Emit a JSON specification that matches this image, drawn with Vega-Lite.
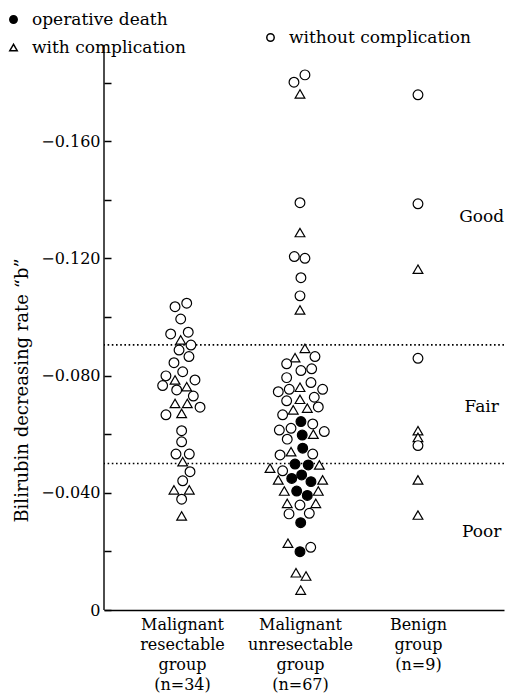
{
  "$schema": "https://vega.github.io/schema/vega-lite/v6.json",
  "width": 400,
  "height": 565,
  "autosize": {"type": "none"},
  "padding": {"left": 104, "top": 45, "right": 2, "bottom": 90},
  "background": "white",
  "config": {
    "view": {"stroke": null},
    "font": "DejaVu Serif",
    "axis": {"labelColor": "black", "titleColor": "black", "domainColor": "black", "tickColor": "black", "grid": false, "labelFont": "DejaVu Serif", "titleFont": "DejaVu Serif", "titleFontWeight": "normal"},
    "legend": {"labelFont": "DejaVu Serif", "labelColor": "black", "labelLimit": 0}
  },
  "datasets": {
    "pts": [
      {"group": "resectable", "x": 0.941, "b": -0.1035, "status": "without complication"},
      {"group": "resectable", "x": 1.040, "b": -0.1047, "status": "without complication"},
      {"group": "resectable", "x": 0.989, "b": -0.0993, "status": "without complication"},
      {"group": "resectable", "x": 0.904, "b": -0.0942, "status": "without complication"},
      {"group": "resectable", "x": 0.989, "b": -0.0922, "status": "with complication"},
      {"group": "resectable", "x": 1.053, "b": -0.0948, "status": "without complication"},
      {"group": "resectable", "x": 1.076, "b": -0.0904, "status": "without complication"},
      {"group": "resectable", "x": 0.975, "b": -0.0887, "status": "without complication"},
      {"group": "resectable", "x": 1.059, "b": -0.0865, "status": "without complication"},
      {"group": "resectable", "x": 0.932, "b": -0.0844, "status": "without complication"},
      {"group": "resectable", "x": 1.006, "b": -0.0813, "status": "without complication"},
      {"group": "resectable", "x": 0.864, "b": -0.0799, "status": "without complication"},
      {"group": "resectable", "x": 0.941, "b": -0.0785, "status": "with complication"},
      {"group": "resectable", "x": 0.836, "b": -0.0766, "status": "without complication"},
      {"group": "resectable", "x": 1.110, "b": -0.0785, "status": "without complication"},
      {"group": "resectable", "x": 1.040, "b": -0.0762, "status": "with complication"},
      {"group": "resectable", "x": 0.955, "b": -0.0751, "status": "without complication"},
      {"group": "resectable", "x": 1.096, "b": -0.0730, "status": "without complication"},
      {"group": "resectable", "x": 0.941, "b": -0.0705, "status": "with complication"},
      {"group": "resectable", "x": 1.045, "b": -0.0705, "status": "with complication"},
      {"group": "resectable", "x": 1.153, "b": -0.0692, "status": "without complication"},
      {"group": "resectable", "x": 0.864, "b": -0.0666, "status": "without complication"},
      {"group": "resectable", "x": 0.997, "b": -0.0671, "status": "with complication"},
      {"group": "resectable", "x": 0.997, "b": -0.0612, "status": "without complication"},
      {"group": "resectable", "x": 0.997, "b": -0.0574, "status": "without complication"},
      {"group": "resectable", "x": 0.949, "b": -0.0532, "status": "without complication"},
      {"group": "resectable", "x": 1.062, "b": -0.0532, "status": "without complication"},
      {"group": "resectable", "x": 1.006, "b": -0.0506, "status": "with complication"},
      {"group": "resectable", "x": 1.068, "b": -0.0472, "status": "without complication"},
      {"group": "resectable", "x": 1.006, "b": -0.0441, "status": "without complication"},
      {"group": "resectable", "x": 0.932, "b": -0.0410, "status": "with complication"},
      {"group": "resectable", "x": 1.062, "b": -0.0410, "status": "with complication"},
      {"group": "resectable", "x": 0.997, "b": -0.0378, "status": "without complication"},
      {"group": "resectable", "x": 0.997, "b": -0.0321, "status": "with complication"},

      {"group": "unresectable", "x": 1.949, "b": -0.1801, "status": "without complication"},
      {"group": "unresectable", "x": 2.042, "b": -0.1826, "status": "without complication"},
      {"group": "unresectable", "x": 2.000, "b": -0.1761, "status": "with complication"},
      {"group": "unresectable", "x": 2.000, "b": -0.1390, "status": "without complication"},
      {"group": "unresectable", "x": 2.000, "b": -0.1288, "status": "with complication"},
      {"group": "unresectable", "x": 1.952, "b": -0.1206, "status": "without complication"},
      {"group": "unresectable", "x": 2.042, "b": -0.1200, "status": "without complication"},
      {"group": "unresectable", "x": 2.008, "b": -0.1134, "status": "without complication"},
      {"group": "unresectable", "x": 2.000, "b": -0.1072, "status": "without complication"},
      {"group": "unresectable", "x": 2.000, "b": -0.1024, "status": "with complication"},
      {"group": "unresectable", "x": 2.042, "b": -0.0893, "status": "with complication"},
      {"group": "unresectable", "x": 1.958, "b": -0.0861, "status": "with complication"},
      {"group": "unresectable", "x": 2.127, "b": -0.0865, "status": "without complication"},
      {"group": "unresectable", "x": 1.887, "b": -0.0840, "status": "without complication"},
      {"group": "unresectable", "x": 2.008, "b": -0.0817, "status": "without complication"},
      {"group": "unresectable", "x": 2.099, "b": -0.0823, "status": "without complication"},
      {"group": "unresectable", "x": 1.887, "b": -0.0793, "status": "without complication"},
      {"group": "unresectable", "x": 2.000, "b": -0.0760, "status": "with complication"},
      {"group": "unresectable", "x": 2.093, "b": -0.0776, "status": "without complication"},
      {"group": "unresectable", "x": 1.816, "b": -0.0745, "status": "without complication"},
      {"group": "unresectable", "x": 1.909, "b": -0.0753, "status": "without complication"},
      {"group": "unresectable", "x": 2.192, "b": -0.0753, "status": "without complication"},
      {"group": "unresectable", "x": 1.887, "b": -0.0714, "status": "without complication"},
      {"group": "unresectable", "x": 2.000, "b": -0.0719, "status": "with complication"},
      {"group": "unresectable", "x": 2.121, "b": -0.0726, "status": "without complication"},
      {"group": "unresectable", "x": 1.943, "b": -0.0683, "status": "with complication"},
      {"group": "unresectable", "x": 2.062, "b": -0.0689, "status": "with complication"},
      {"group": "unresectable", "x": 2.155, "b": -0.0693, "status": "without complication"},
      {"group": "unresectable", "x": 1.853, "b": -0.0666, "status": "without complication"},
      {"group": "unresectable", "x": 2.008, "b": -0.0643, "status": "operative death"},
      {"group": "unresectable", "x": 1.825, "b": -0.0614, "status": "without complication"},
      {"group": "unresectable", "x": 1.924, "b": -0.0620, "status": "without complication"},
      {"group": "unresectable", "x": 2.108, "b": -0.0635, "status": "without complication"},
      {"group": "unresectable", "x": 2.019, "b": -0.0597, "status": "operative death"},
      {"group": "unresectable", "x": 2.113, "b": -0.0600, "status": "with complication"},
      {"group": "unresectable", "x": 2.206, "b": -0.0609, "status": "without complication"},
      {"group": "unresectable", "x": 1.892, "b": -0.0583, "status": "without complication"},
      {"group": "unresectable", "x": 2.023, "b": -0.0552, "status": "operative death"},
      {"group": "unresectable", "x": 1.831, "b": -0.0529, "status": "without complication"},
      {"group": "unresectable", "x": 1.924, "b": -0.0540, "status": "with complication"},
      {"group": "unresectable", "x": 2.108, "b": -0.0532, "status": "without complication"},
      {"group": "unresectable", "x": 1.746, "b": -0.0484, "status": "with complication"},
      {"group": "unresectable", "x": 1.958, "b": -0.0498, "status": "operative death"},
      {"group": "unresectable", "x": 2.070, "b": -0.0495, "status": "operative death"},
      {"group": "unresectable", "x": 2.164, "b": -0.0495, "status": "with complication"},
      {"group": "unresectable", "x": 1.853, "b": -0.0475, "status": "without complication"},
      {"group": "unresectable", "x": 1.930, "b": -0.0449, "status": "operative death"},
      {"group": "unresectable", "x": 2.014, "b": -0.0461, "status": "operative death"},
      {"group": "unresectable", "x": 1.816, "b": -0.0444, "status": "with complication"},
      {"group": "unresectable", "x": 2.093, "b": -0.0438, "status": "operative death"},
      {"group": "unresectable", "x": 2.192, "b": -0.0444, "status": "with complication"},
      {"group": "unresectable", "x": 1.867, "b": -0.0406, "status": "with complication"},
      {"group": "unresectable", "x": 1.972, "b": -0.0406, "status": "operative death"},
      {"group": "unresectable", "x": 2.062, "b": -0.0391, "status": "operative death"},
      {"group": "unresectable", "x": 2.155, "b": -0.0406, "status": "with complication"},
      {"group": "unresectable", "x": 1.892, "b": -0.0364, "status": "with complication"},
      {"group": "unresectable", "x": 2.000, "b": -0.0358, "status": "without complication"},
      {"group": "unresectable", "x": 2.134, "b": -0.0364, "status": "with complication"},
      {"group": "unresectable", "x": 1.907, "b": -0.0328, "status": "without complication"},
      {"group": "unresectable", "x": 2.079, "b": -0.0330, "status": "without complication"},
      {"group": "unresectable", "x": 2.006, "b": -0.0298, "status": "operative death"},
      {"group": "unresectable", "x": 1.898, "b": -0.0228, "status": "with complication"},
      {"group": "unresectable", "x": 2.000, "b": -0.0199, "status": "operative death"},
      {"group": "unresectable", "x": 2.091, "b": -0.0214, "status": "without complication"},
      {"group": "unresectable", "x": 1.966, "b": -0.0127, "status": "with complication"},
      {"group": "unresectable", "x": 2.051, "b": -0.0116, "status": "with complication"},
      {"group": "unresectable", "x": 2.006, "b": -0.0068, "status": "with complication"},

      {"group": "benign", "x": 3.0, "b": -0.1758, "status": "without complication"},
      {"group": "benign", "x": 3.0, "b": -0.1386, "status": "without complication"},
      {"group": "benign", "x": 3.0, "b": -0.1163, "status": "with complication"},
      {"group": "benign", "x": 3.0, "b": -0.0859, "status": "without complication"},
      {"group": "benign", "x": 3.0, "b": -0.0612, "status": "with complication"},
      {"group": "benign", "x": 3.0, "b": -0.0589, "status": "with complication"},
      {"group": "benign", "x": 3.0, "b": -0.0561, "status": "without complication"},
      {"group": "benign", "x": 3.0, "b": -0.0444, "status": "with complication"},
      {"group": "benign", "x": 3.0, "b": -0.0324, "status": "with complication"}
    ],
    "cuts": [{"b": -0.0905}, {"b": -0.0500}],
    "zones": [
      {"zone": "Good", "x": 3.54, "b": -0.1341},
      {"zone": "Fair", "x": 3.54, "b": -0.0693},
      {"zone": "Poor", "x": 3.54, "b": -0.0266}
    ]
  },
  "layer": [
    {
      "data": {"name": "cuts"},
      "mark": {"type": "rule", "color": "black", "strokeWidth": 1.7, "strokeDash": [1.6, 2.6]},
      "encoding": {
        "y": {"field": "b", "type": "quantitative", "scale": {"domain": [-0.1928, 0], "reverse": true, "nice": false, "zero": false},
          "axis": {
            "orient": "left",
            "offset": -7,
            "zindex": 2,
            "values": [-0.18, -0.16, -0.14, -0.12, -0.10, -0.08, -0.06, -0.04, -0.02, 0],
            "labelExpr": "round(datum.value*1000) % 40 == 0 ? (datum.value == 0 ? '0' : '\u2212' + format(-datum.value, '.3f')) : ''",
            "domain": false,
            "ticks": true,
            "tickSize": 7,
            "tickWidth": 1.5,
            "labelPadding": 4,
            "labelFontSize": 16,
            "title": "Bilirubin decreasing rate \u201cb\u201d",
            "titleFontSize": 18,
            "titleX": -89,
            "titleY": 345,
            "titleAngle": -90,
            "titleAlign": "center",
            "titleBaseline": "middle"
          }
        }
      }
    },
    {
      "data": {"values": [{"edge": "left"}]},
      "mark": {"type": "rule", "color": "black", "strokeWidth": 1.4},
      "encoding": {"x": {"datum": 0.339, "type": "quantitative"}}
    },
    {
      "data": {"name": "pts"},
      "transform": [{"filter": "datum.status != 'without complication'"}],
      "mark": {"type": "point", "filled": true, "stroke": "black", "strokeWidth": 1.2, "size": 95, "opacity": 1},
      "encoding": {
        "x": {"field": "x", "type": "quantitative", "scale": {"domain": [0.339, 3.729], "nice": false, "zero": false},
          "axis": {
            "values": [1, 2, 3],
            "ticks": false,
            "domainWidth": 1.4,
            "labelFontSize": 16,
            "labelLineHeight": 20,
            "labelPadding": 6,
            "labelBaseline": "top",
            "labelExpr": "datum.value == 1 ? ['Malignant', 'resectable', 'group', '(n=34)'] : datum.value == 2 ? ['Malignant', 'unresectable', 'group', '(n=67)'] : ['Benign', 'group', '(n=9)']",
            "title": null
          }
        },
        "y": {"field": "b", "type": "quantitative"},
        "shape": {"field": "status", "type": "nominal",
          "scale": {"domain": ["operative death", "with complication"], "range": ["circle", "triangle-up"]},
          "legend": {"orient": "none", "legendX": -99, "legendY": -34, "title": null, "labelFontSize": 17, "symbolSize": 55, "rowPadding": 10, "labelOffset": 10,
            "encode": {"symbols": {"update": {"stroke": {"value": "black"}, "strokeWidth": {"value": 1.2}}}}}
        },
        "fill": {"field": "status", "type": "nominal",
          "scale": {"domain": ["operative death", "with complication"], "range": ["black", "white"]},
          "legend": null
        }
      }
    },
    {
      "data": {"name": "pts"},
      "transform": [{"filter": "datum.status == 'without complication'"}],
      "mark": {"type": "point", "filled": true, "fill": "white", "stroke": "black", "strokeWidth": 1.2, "size": 95, "opacity": 1},
      "encoding": {
        "x": {"field": "x", "type": "quantitative"},
        "y": {"field": "b", "type": "quantitative"},
        "shape": {"field": "status", "type": "nominal",
          "scale": {"domain": ["without complication"], "range": ["circle"]},
          "legend": {"orient": "none", "legendX": 158, "legendY": -16, "title": null, "labelFontSize": 17, "symbolSize": 55, "labelOffset": 10,
            "encode": {"symbols": {"update": {"fill": {"value": "white"}, "stroke": {"value": "black"}, "strokeWidth": {"value": 1.2}}}}}
        }
      }
    },
    {
      "data": {"name": "zones"},
      "mark": {"type": "text", "font": "DejaVu Serif", "fontSize": 17, "color": "black", "align": "center", "baseline": "middle"},
      "encoding": {
        "x": {"field": "x", "type": "quantitative"},
        "y": {"field": "b", "type": "quantitative"},
        "text": {"field": "zone"}
      }
    }
  ],
  "resolve": {"scale": {"shape": "independent", "fill": "independent"}, "legend": {"shape": "independent", "fill": "independent"}}
}
